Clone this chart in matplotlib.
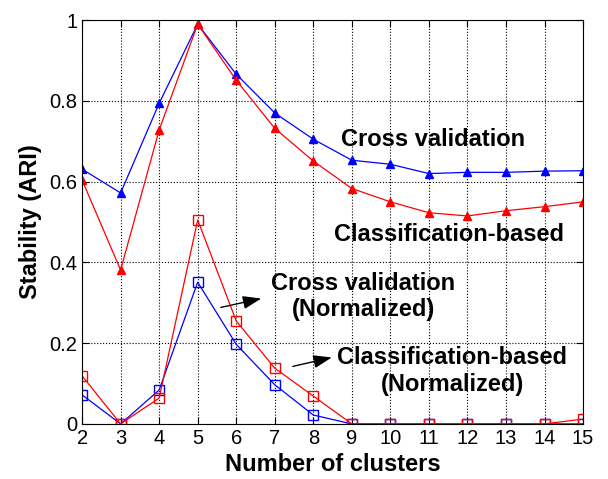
#!/usr/bin/env python3
# stability vs number of clusters

import matplotlib
matplotlib.use('Agg')
import matplotlib.pyplot as plt

plt.rcParams['font.family'] = ['Liberation Sans', 'DejaVu Sans']

# Data
clusters = [2, 3, 4, 5, 6, 7, 8, 9, 10, 11, 12, 13, 14, 15]
cross_val = [0.631, 0.572, 0.794, 0.99, 0.866, 0.770, 0.705, 0.653, 0.643, 0.620, 0.623, 0.623, 0.626, 0.627]
class_based = [0.604, 0.381, 0.728, 0.99, 0.851, 0.732, 0.651, 0.583, 0.550, 0.523, 0.515, 0.528, 0.538, 0.550]
cross_val_norm = [0.072, 0.0, 0.084, 0.351, 0.197, 0.097, 0.022, 0.0, 0.0, 0.0, 0.0, 0.0, 0.0, 0.0]
class_based_norm = [0.119, 0.0, 0.064, 0.505, 0.255, 0.138, 0.069, 0.0, 0.0, 0.0, 0.0, 0.0, 0.0, 0.012]
yticks = [0, 0.2, 0.4, 0.6, 0.8, 1]
yticklabels = ['0', '0.2', '0.4', '0.6', '0.8', '1']

fig = plt.figure(figsize=(6.08, 4.79), dpi=100)
ax = fig.add_axes([0.135, 0.115, 0.824, 0.843])

ax.plot(clusters, cross_val, color='blue', marker='^', markersize=6, linewidth=0.9)
ax.plot(clusters, class_based, color='red', marker='^', markersize=6, linewidth=0.9)
ax.plot(clusters, cross_val_norm, color='blue', marker='s', markersize=7,
        markerfacecolor='none', linewidth=0.9)
ax.plot(clusters, class_based_norm, color='red', marker='s', markersize=7,
        markerfacecolor='none', linewidth=0.9)

ax.set_xlim(2, 15)
ax.set_ylim(0, 1)
ax.set_xticks(clusters)
ax.set_yticks(yticks)
ax.set_yticklabels(yticklabels)
ax.tick_params(direction='in', labelsize=14.5, top=True, right=True, length=5)
ax.grid(True, linestyle=':', color='black', linewidth=0.8)
ax.set_xlabel('Number of clusters', fontsize=17, fontweight='bold', labelpad=4)
ax.set_ylabel('Stability (ARI)', fontsize=17, fontweight='bold', labelpad=5)

# labels
ax.text(11.12, 0.705, 'Cross validation', fontsize=17, fontweight='bold',
        ha='center', va='center')
ax.text(11.53, 0.468, 'Classification-based', fontsize=17, fontweight='bold',
        ha='center', va='center')
ax.text(9.30, 0.316, 'Cross validation\n(Normalized)', fontsize=17, fontweight='bold',
        ha='center', va='center', linespacing=1.2)
ax.text(11.61, 0.131, 'Classification-based\n(Normalized)', fontsize=17, fontweight='bold',
        ha='center', va='center', linespacing=1.2)

arrow = dict(arrowstyle='-|>,head_length=0.7,head_width=0.25', color='black',
             lw=1, mutation_scale=16)
ax.annotate('', xy=(6.72, 0.312), xytext=(5.53, 0.287), arrowprops=arrow)
ax.annotate('', xy=(8.55, 0.166), xytext=(7.40, 0.141), arrowprops=arrow)

plt.savefig('out.png', dpi=100)
